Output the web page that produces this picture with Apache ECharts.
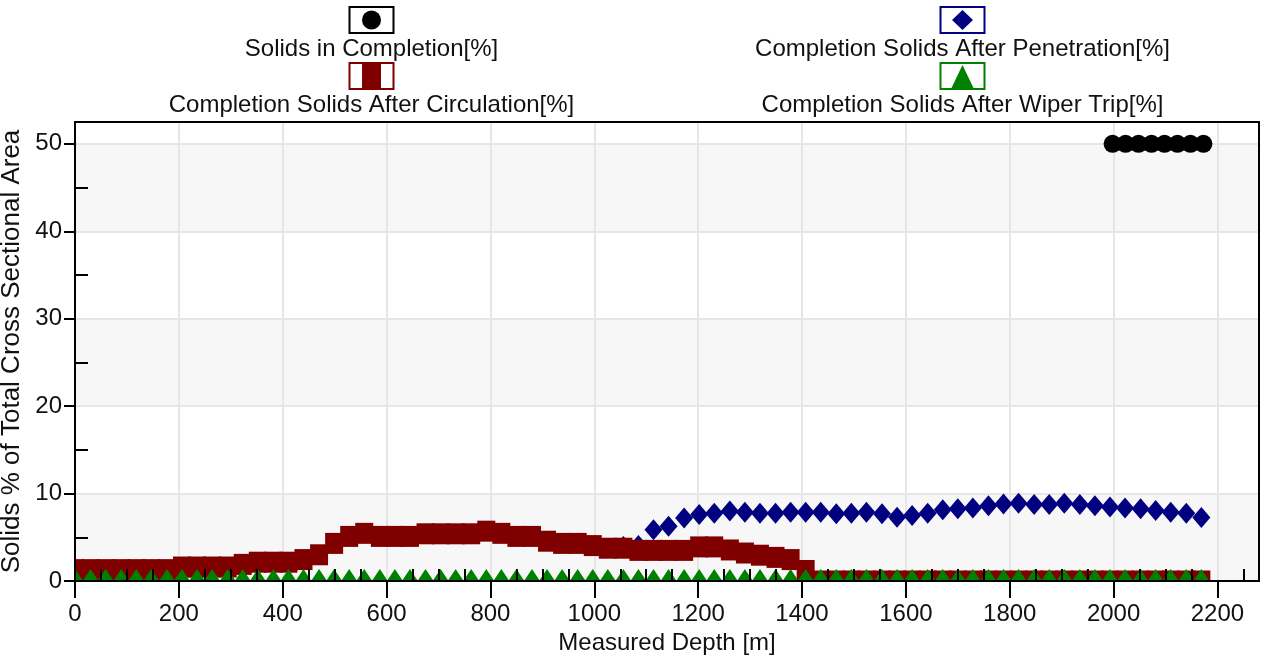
<!DOCTYPE html>
<html>
<head>
<meta charset="utf-8">
<title>Completion Solids</title>
<script src="https://cdn.jsdelivr.net/npm/echarts@6/dist/echarts.min.js"></script>
<style>
  html, body { margin: 0; padding: 0; background: #ffffff; }
  #chart { width: 1261px; height: 657px; }
</style>
</head>
<body>
<div id="chart"></div>
<script>
// Measured depth stations [m] shared by the circulation, wiper-trip and penetration profiles
const depth = [0, 30, 59, 89, 118, 147, 177, 206, 235, 264, 294, 323, 352, 382, 411, 440, 470, 499, 528, 557,
  587, 616, 645, 675, 704, 733, 763, 792, 821, 850, 880, 909, 938, 968, 997, 1026, 1056, 1085, 1114, 1143,
  1173, 1202, 1231, 1261, 1290, 1319, 1349, 1378, 1407, 1436, 1466, 1495, 1524, 1554, 1583, 1612, 1642, 1671, 1700, 1729,
  1759, 1788, 1817, 1847, 1876, 1905, 1935, 1964, 1993, 2022, 2052, 2081, 2110, 2140, 2169];

// Completion solids after circulation [%]
const solidsAfterCirculation = [1.3, 1.3, 1.3, 1.3, 1.3, 1.3, 1.3, 1.6, 1.6, 1.6, 1.6, 1.9, 2.15, 2.15, 2.15, 2.45, 3.0, 4.3, 5.1, 5.45,
  5.1, 5.1, 5.1, 5.4, 5.4, 5.4, 5.4, 5.7, 5.45, 5.1, 5.1, 4.55, 4.3, 4.3, 4.05, 3.75, 3.75, 3.5, 3.5, 3.5,
  3.5, 3.9, 3.9, 3.55, 3.2, 2.95, 2.7, 2.45, 1.2, 0, 0, 0, 0, 0, 0, 0, 0, 0, 0, 0,
  0, 0, 0, 0, 0, 0, 0, 0, 0, 0, 0, 0, 0, 0, 0];

// Completion solids after wiper trip [%]
const solidsAfterWiperTrip = [0, 0, 0, 0, 0, 0, 0, 0, 0, 0, 0, 0, 0, 0, 0, 0, 0, 0, 0, 0,
  0, 0, 0, 0, 0, 0, 0, 0, 0, 0, 0, 0, 0, 0, 0, 0, 0, 0, 0, 0,
  0, 0, 0, 0, 0, 0, 0, 0, 0, 0, 0, 0, 0, 0, 0, 0, 0, 0, 0, 0,
  0, 0, 0, 0, 0, 0, 0, 0, 0, 0, 0, 0, 0, 0, 0];

// Completion solids after penetration [%] (no reading above ~1050 m)
const solidsAfterPenetration = [null, null, null, null, null, null, null, null, null, null, null, null, null, null, null, null, null, null, null, null,
  null, null, null, null, null, null, null, null, null, null, null, null, null, null, null, null, 3.95, 4.05, 5.85, 6.25,
  7.2, 7.6, 7.75, 8.0, 7.85, 7.75, 7.75, 7.85, 7.85, 7.85, 7.7, 7.75, 7.85, 7.7, 7.3, 7.5, 7.75, 8.15, 8.25, 8.35,
  8.6, 8.8, 8.9, 8.75, 8.75, 8.9, 8.75, 8.6, 8.45, 8.35, 8.25, 8.05, 7.85, 7.75, 7.25];

// Solids in completion [%]
const completionDepth = [1998, 2023, 2048, 2073, 2098, 2123, 2148, 2173];
const solidsInCompletion = [50, 50, 50, 50, 50, 50, 50, 50];

// Axis ticks
const xMajorTicks = [0, 200, 400, 600, 800, 1000, 1200, 1400, 1600, 1800, 2000, 2200];
const xMinorTicks = [50, 100, 150, 250, 300, 350, 450, 500, 550, 650, 700, 750, 850, 900, 950, 1050, 1100, 1150,
  1250, 1300, 1350, 1450, 1500, 1550, 1650, 1700, 1750, 1850, 1900, 1950, 2050, 2100, 2150, 2250];
const yMajorTicks = [0, 10, 20, 30, 40, 50];
const yMinorTicks = [5, 15, 25, 35, 45];

const FONT = 'Liberation Sans';
const TEXT_COLOR = '#111';
const X_MAX = 2280;
const Y_MAX = 52.5;

// Draws one marker glyph centred at a data point
function markerShape(kind, p, w, h, color) {
  const [cx, cy] = p;
  if (kind === 'circle') {
    return { type: 'circle', shape: { cx: cx, cy: cy, r: w / 2 }, style: { fill: color } };
  }
  if (kind === 'rect') {
    return { type: 'rect', shape: { x: cx - w / 2, y: cy - h / 2, width: w, height: h }, style: { fill: color } };
  }
  if (kind === 'diamond') {
    return { type: 'polygon', shape: { points: [[cx, cy - h / 2], [cx + w / 2, cy], [cx, cy + h / 2], [cx - w / 2, cy]] }, style: { fill: color } };
  }
  return { type: 'polygon', shape: { points: [[cx, cy - h / 2], [cx + w / 2, cy + h / 2], [cx - w / 2, cy + h / 2]] }, style: { fill: color } };
}

// Marker-only series, clipped to the plot frame
function markerSeries(name, xs, ys, kind, color, w, h) {
  const data = [];
  xs.forEach((x, i) => { if (ys[i] !== null && ys[i] !== undefined) data.push([x, ys[i]]); });
  return {
    type: 'custom',
    name: name,
    xAxisIndex: 0,
    yAxisIndex: 0,
    clip: true,
    z: 2,
    data: data,
    encode: { x: 0, y: 1 },
    renderItem: function (params, api) {
      const p = api.coord([api.value(0), api.value(1)]);
      return markerShape(kind, p, w, h, color);
    }
  };
}

const plainNumber = v => String(v);
const axisText = { fontFamily: FONT, fontSize: 24, color: TEXT_COLOR };
const frameLine = { show: true, onZero: false, lineStyle: { color: '#000', width: 2 } };

// Legend: boxed marker above each series name
function legendItem(cx, boxTop, label, stroke, glyph) {
  return [
    { type: 'rect', shape: { x: cx - 22, y: boxTop, width: 44, height: 26 }, style: { fill: '#fff', stroke: stroke, lineWidth: 2 }, z: 10 },
    Object.assign({ z: 11 }, glyph),
    { type: 'text', x: cx, y: boxTop + 42, style: { text: label, fontFamily: FONT, fontSize: 24, fill: TEXT_COLOR, align: 'center', verticalAlign: 'middle' }, z: 11 }
  ];
}

const legendElements = [].concat(
  legendItem(371.5, 7, 'Solids in Completion[%]', '#000000',
    { type: 'circle', shape: { cx: 371.5, cy: 20, r: 9.5 }, style: { fill: '#000000' } }),
  legendItem(371.5, 63, 'Completion Solids After Circulation[%]', '#800000',
    { type: 'rect', shape: { x: 362, y: 63, width: 19, height: 26 }, style: { fill: '#800000' } }),
  legendItem(962.5, 7, 'Completion Solids After Penetration[%]', '#000080',
    { type: 'polygon', shape: { points: [[962.5, 10], [973, 20], [962.5, 30], [952, 20]] }, style: { fill: '#000080' } }),
  legendItem(962.5, 63, 'Completion Solids After Wiper Trip[%]', '#008000',
    { type: 'polygon', shape: { points: [[962.5, 65], [974, 89], [951, 89]] }, style: { fill: '#008000' } })
);

const chart = echarts.init(document.getElementById('chart'), null, { renderer: 'canvas' });

chart.setOption({
  animation: false,
  backgroundColor: '#ffffff',
  textStyle: { fontFamily: FONT },
  grid: { left: 75, top: 122, width: 1184, height: 459, containLabel: false, outerBoundsMode: 'none' },
  graphic: { elements: legendElements },
  xAxis: [
    {
      type: 'value', min: 0, max: X_MAX, interval: 200, position: 'bottom', z: 0,
      name: 'Measured Depth [m]', nameLocation: 'middle', nameGap: 49, nameTextStyle: axisText,
      axisLine: { show: false },
      axisTick: { show: true, inside: false, length: 17, lineStyle: { color: '#000', width: 2 }, customValues: xMajorTicks },
      axisLabel: Object.assign({ margin: 21, customValues: xMajorTicks, formatter: plainNumber }, axisText),
      splitLine: { show: true, lineStyle: { color: '#e6e6e6', width: 2 } },
      splitArea: { show: false }
    },
    {
      type: 'value', min: 0, max: X_MAX, position: 'bottom', z: 5,
      axisLine: frameLine,
      axisTick: { show: true, inside: true, length: 12, lineStyle: { color: '#000', width: 2 }, customValues: xMinorTicks },
      axisLabel: { show: false }, splitLine: { show: false }
    },
    {
      type: 'value', min: 0, max: X_MAX, position: 'top', z: 5,
      axisLine: frameLine, axisTick: { show: false }, axisLabel: { show: false }, splitLine: { show: false }
    }
  ],
  yAxis: [
    {
      type: 'value', min: 0, max: Y_MAX, interval: 10, position: 'left', z: 0,
      name: 'Solids % of Total Cross Sectional Area', nameLocation: 'middle', nameGap: 42, nameRotate: 90,
      nameTextStyle: { fontFamily: FONT, fontSize: 26, color: TEXT_COLOR },
      axisLine: { show: false },
      axisTick: { show: true, inside: false, length: 11, lineStyle: { color: '#000', width: 2 }, customValues: yMajorTicks },
      axisLabel: Object.assign({ margin: 13, customValues: yMajorTicks, formatter: plainNumber }, axisText),
      splitLine: { show: true, lineStyle: { color: '#e6e6e6', width: 2 } },
      splitArea: { show: true, areaStyle: { color: ['#f7f7f7', '#ffffff'] } }
    },
    {
      type: 'value', min: 0, max: Y_MAX, position: 'left', z: 5,
      axisLine: frameLine,
      axisTick: { show: true, inside: true, length: 13, lineStyle: { color: '#000', width: 2 }, customValues: yMinorTicks },
      axisLabel: { show: false }, splitLine: { show: false }
    },
    {
      type: 'value', min: 0, max: Y_MAX, position: 'right', z: 5,
      axisLine: frameLine, axisTick: { show: false }, axisLabel: { show: false }, splitLine: { show: false }
    }
  ],
  series: [
    markerSeries('Solids in Completion[%]', completionDepth, solidsInCompletion, 'circle', '#000000', 18, 18),
    markerSeries('Completion Solids After Penetration[%]', depth, solidsAfterPenetration, 'diamond', '#000080', 18, 21),
    markerSeries('Completion Solids After Circulation[%]', depth, solidsAfterCirculation, 'rect', '#800000', 18, 21),
    markerSeries('Completion Solids After Wiper Trip[%]', depth, solidsAfterWiperTrip, 'triangle', '#008000', 32, 24)
  ]
});
</script>
</body>
</html>
